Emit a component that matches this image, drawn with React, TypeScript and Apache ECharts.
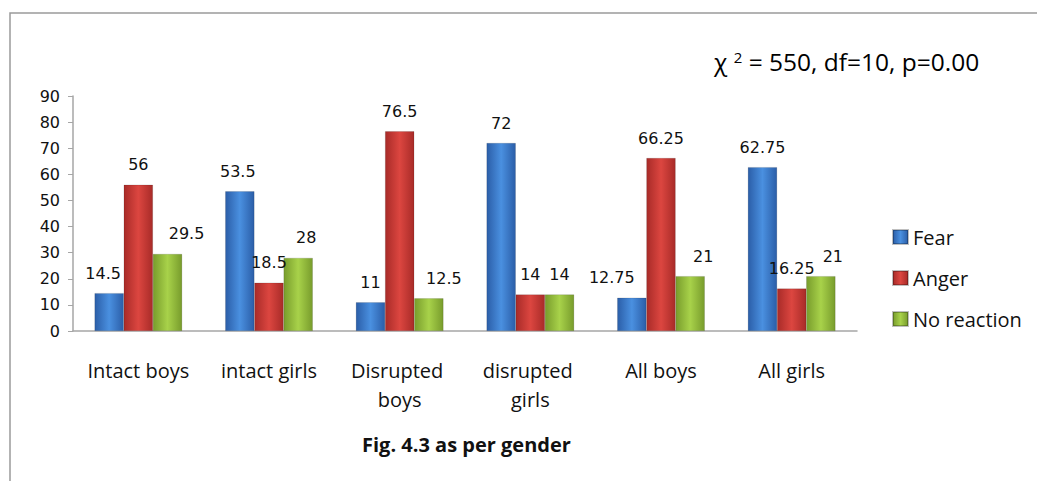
import React, { useEffect, useRef } from "react";
import * as echarts from "echarts";

const categories = ["Intact boys", "intact girls", "Disrupted boys", "disrupted girls", "All boys", "All girls"];
const seriesNames = ["Fear", "Anger", "No reaction"];
const fear = [14.5, 53.5, 11, 72, 12.75, 62.75];
const anger = [56, 18.5, 76.5, 14, 66.25, 16.25];
const noReaction = [29.5, 28, 12.5, 14, 21, 21];
const yTicks = { min: 0, max: 90, interval: 10 };
const chiText = "= 550, df=10, p=0.00";
const caption = "Fig. 4.3 as per gender";

// horizontal label shifts (px) to mimic the reference's label placement
const labelShiftFear = [-6, -2, 0, 0, -20, 0];
const labelShiftAnger = [0, 0, 0, 0, 0, 0];
const labelShiftNo = [19, 8, 15, 0, 13, 12];

const grad = (edge: string, mid: string) => ({
  type: "linear", x: 0, y: 0, x2: 1, y2: 0,
  colorStops: [
    { offset: 0, color: edge },
    { offset: 0.5, color: mid },
    { offset: 1, color: edge },
  ],
});

const colors = [
  grad("#2B5EA8", "#4A90E0"),
  grad("#A82B28", "#DC4640"),
  grad("#789C2C", "#A8D24A"),
];

export default function App() {
  const ref = useRef<HTMLDivElement>(null);
  useEffect(() => {
    if (!ref.current) return;
    const chart = echarts.init(ref.current, undefined, { renderer: "svg" });
    const numFont = "DejaVu Sans";
    const txtFont = "Open Sans";
    const mk = (name: string, vals: number[], shifts: number[], color: any) => ({
      name,
      type: "bar",
      barGap: "0%",
      barCategoryGap: "33%",
      itemStyle: { color, borderColor: "rgba(0,0,0,0.25)", borderWidth: 0.5 },
      data: vals.map((v, i) => ({
        value: v,
        label: { offset: [shifts[i], 0] },
      })),
      label: {
        show: true,
        position: "top",
        distance: 12,
        fontFamily: numFont,
        fontSize: 16,
        color: "#111",
      },
    });
    chart.setOption({
      animation: false,
      backgroundColor: "#fff",
      grid: { left: 73, right: 180, top: 96, bottom: 150, containLabel: false },
      legend: {
        orient: "vertical",
        left: 892,
        top: 227,
        padding: 0,
        itemWidth: 15,
        itemHeight: 14,
        itemGap: 21,
        icon: "rect",
        textStyle: { fontFamily: txtFont, fontSize: 20, lineHeight: 20, color: "#111" },
        data: seriesNames,
      },
      xAxis: {
        type: "category",
        data: categories,
        axisLine: { lineStyle: { color: "#A6A6A6", width: 1.5 } },
        axisTick: { show: false },
        axisLabel: {
          interval: 0,
          margin: 25,
          fontFamily: txtFont,
          fontSize: 20,
          color: "#111",
          lineHeight: 29,
          width: 112,
          overflow: "break",
        },
      },
      yAxis: {
        type: "value",
        min: yTicks.min,
        max: yTicks.max,
        interval: yTicks.interval,
        splitLine: { show: false },
        axisLine: { show: true, lineStyle: { color: "#A6A6A6", width: 1.5 } },
        axisTick: { show: true, length: 5, lineStyle: { color: "#A6A6A6" } },
        axisLabel: { margin: 13, fontFamily: numFont, fontSize: 16, color: "#111" },
      },
      graphic: [
        {
          type: "rect",
          shape: { x: 10, y: 13, width: 1100, height: 600 },
          style: { fill: "none", stroke: "#9A9A9A", lineWidth: 1.5 },
          silent: true,
        },
        {
          type: "text",
          left: 714,
          top: 49,
          style: {
            text: "{a|χ }{s|2}{a| " + chiText + "}",
            rich: {
              a: { fontFamily: txtFont, fontSize: 24.5, color: "#111" },
              s: { fontFamily: txtFont, fontSize: 15, color: "#111", verticalAlign: "top", padding: [0, 0, 10, 0] },
            },
          },
        },
        {
          type: "text",
          left: 362,
          top: 434,
          style: {
            text: caption,
            fontFamily: txtFont,
            fontSize: 20,
            fontWeight: "bold",
            fill: "#111",
          },
        },
      ],
      series: [
        mk(seriesNames[0], fear, labelShiftFear, colors[0]),
        mk(seriesNames[1], anger, labelShiftAnger, colors[1]),
        mk(seriesNames[2], noReaction, labelShiftNo, colors[2]),
      ],
    });
    return () => chart.dispose();
  }, []);
  return (
    <div
      ref={ref}
      style={{ position: "fixed", left: 0, top: 0, width: 1037, height: 481 }}
    />
  );
}
